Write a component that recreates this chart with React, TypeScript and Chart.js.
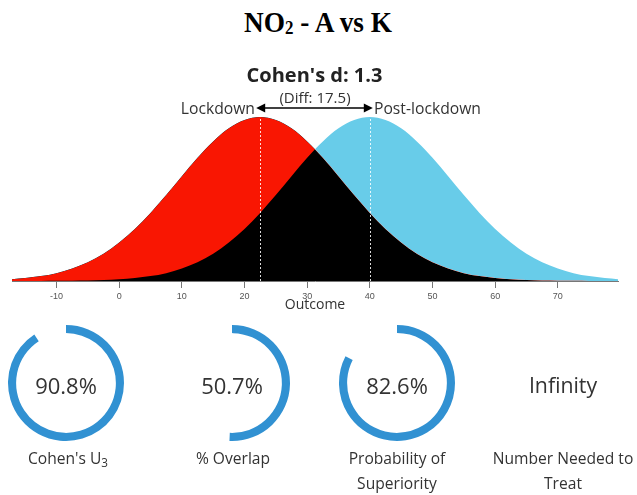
import React, { useEffect, useRef } from 'react';
import { Chart, registerables } from 'chart.js';

Chart.register(...registerables);

// ---------- data ----------
const X_MIN = -17.1;
const X_MAX = 79.6;
const X_VALUES = [
  -17.1, -15, -12.5, -10, -7.5, -5, -2.5, 0, 2.5, 5, 7.5, 10, 12.5, 15, 17.5, 20,
  22.5, 25, 27.5, 30, 32.5, 35, 37.5, 40, 42.5, 45, 47.5, 50, 52.5, 55, 57.5, 60,
  62.5, 65, 67.5, 70, 72.5, 75, 77.5, 79.6,
];
// relative density (peak = 100)
const LOCKDOWN = [
  1.1, 1.8, 3.0, 4.8, 7.6, 11.4, 16.6, 23.4, 31.7, 41.5, 52.4, 63.9, 75.1, 85.1, 93.1, 98.2,
  100, 98.2, 93.1, 85.1, 75.1, 63.9, 52.4, 41.5, 31.7, 23.4, 16.6, 11.4, 7.6, 4.8, 3.0, 1.8,
  1.0, 0.6, 0.3, 0.2, 0.1, 0.0, 0.0, 0.0,
];
const POST_LOCKDOWN = [
  0.0, 0.0, 0.0, 0.1, 0.2, 0.3, 0.6, 1.0, 1.8, 3.0, 4.8, 7.6, 11.4, 16.6, 23.4, 31.7,
  41.5, 52.4, 63.9, 75.1, 85.1, 93.1, 98.2, 100, 98.2, 93.1, 85.1, 75.1, 63.9, 52.4, 41.5, 31.7,
  23.4, 16.6, 11.4, 7.6, 4.8, 3.0, 1.8, 1.1,
];
const X_TICKS = [-10, 0, 10, 20, 30, 40, 50, 60, 70];
const MEANS = [22.5, 40];
const GROUP_NAMES = ['Lockdown', 'Post-lockdown'];
const COHENS_D_TEXT = "Cohen's d: 1.3";
const DIFF_TEXT = '(Diff: 17.5)';
const X_TITLE = 'Outcome';
const GAUGE_VALUES = [90.8, 50.7, 82.6];
const GAUGE_TEXTS = ['90.8%', '50.7%', '82.6%', 'Infinity'];

// ---------- styles ----------
const RED = 'rgb(249,22,2)';
const BLUE = 'rgb(104,204,233)';
const RING = 'rgb(49,145,210)';
const TEXT = '#333';
const SANS = '"Open Sans", "Noto Sans", sans-serif';

const meanPlugin = {
  id: 'meanMarks',
  afterDatasetsDraw(chart: any) {
    const { ctx, scales } = chart;
    const x = scales.x;
    const y = scales.y;
    const base = y.getPixelForValue(0);
    const top = y.getPixelForValue(100);
    ctx.save();
    ctx.strokeStyle = 'rgba(255,255,255,0.85)';
    ctx.lineWidth = 1;
    ctx.setLineDash([2, 2]);
    MEANS.forEach((m) => {
      const px = Math.round(x.getPixelForValue(m)) + 0.5;
      ctx.beginPath();
      ctx.moveTo(px, base);
      ctx.lineTo(px, top);
      ctx.stroke();
    });
    ctx.setLineDash([]);
    // arrow between means
    const x1 = x.getPixelForValue(MEANS[0]) - 4;
    const x2 = x.getPixelForValue(MEANS[1]) + 3;
    const ay = top - 9;
    ctx.strokeStyle = '#000';
    ctx.fillStyle = '#000';
    ctx.lineWidth = 1.5;
    ctx.beginPath();
    ctx.moveTo(x1 + 6, ay);
    ctx.lineTo(x2 - 6, ay);
    ctx.stroke();
    ctx.beginPath();
    ctx.moveTo(x1, ay);
    ctx.lineTo(x1 + 9, ay - 4.5);
    ctx.lineTo(x1 + 9, ay + 4.5);
    ctx.closePath();
    ctx.fill();
    ctx.beginPath();
    ctx.moveTo(x2, ay);
    ctx.lineTo(x2 - 9, ay - 4.5);
    ctx.lineTo(x2 - 9, ay + 4.5);
    ctx.closePath();
    ctx.fill();
    ctx.restore();
  },
};

function DensityChart() {
  const ref = useRef<HTMLCanvasElement | null>(null);
  useEffect(() => {
    if (!ref.current) return;
    const chart = new Chart(ref.current, {
      type: 'line',
      data: {
        datasets: [
          {
            data: X_VALUES.map((x, i) => ({ x, y: POST_LOCKDOWN[i] })),
            borderWidth: 0,
            borderColor: 'rgba(0,0,0,0)',
            pointRadius: 0,
            cubicInterpolationMode: 'monotone',
            fill: { target: 1, above: BLUE, below: RED },
          },
          {
            data: X_VALUES.map((x, i) => ({ x, y: LOCKDOWN[i] })),
            borderWidth: 0,
            borderColor: 'rgba(0,0,0,0)',
            pointRadius: 0,
            cubicInterpolationMode: 'monotone',
            backgroundColor: '#000',
            fill: 'origin',
          },
        ],
      } as any,
      options: {
        responsive: false,
        animation: false,
        devicePixelRatio: 1,
        events: [],
        layout: { padding: { left: 12, right: 19, top: 117, bottom: 0 } },
        plugins: { legend: { display: false }, tooltip: { enabled: false } },
        scales: {
          x: {
            type: 'linear',
            min: X_MIN,
            max: X_MAX,
            afterBuildTicks: (s: any) => {
              s.ticks = X_TICKS.map((v) => ({ value: v }));
            },
            afterFit: (s: any) => {
              s.height = 49;
            },
            grid: { drawOnChartArea: false, drawTicks: true, tickLength: 7, color: '#777' },
            border: { display: true, color: '#777', width: 1 },
            ticks: {
              font: { family: '"Liberation Sans", Arial, sans-serif', size: 9 },
              color: '#555',
              padding: 3,
              maxRotation: 0,
              autoSkip: false,
            },
            title: {
              display: true,
              text: X_TITLE,
              font: { family: SANS, size: 14 },
              color: TEXT,
              padding: { top: 0, bottom: 16.6 },
            },
          },
          y: { display: false, min: 0, max: 100 },
        },
      } as any,
      plugins: [meanPlugin],
    });
    return () => chart.destroy();
  }, []);
  return (
    <canvas
      ref={ref}
      width={637}
      height={330}
      style={{ position: 'absolute', left: 0, top: 0, width: 637, height: 330, display: 'block' }}
    />
  );
}

function Gauge({ value, cx, cy }: { value: number; cx: number; cy: number }) {
  const ref = useRef<HTMLCanvasElement | null>(null);
  useEffect(() => {
    if (!ref.current) return;
    const chart = new Chart(ref.current, {
      type: 'doughnut',
      data: {
        datasets: [
          {
            data: [value, 100 - value],
            backgroundColor: [RING, 'rgba(0,0,0,0)'],
            borderWidth: 0,
          },
        ],
      },
      options: {
        responsive: false,
        animation: false,
        devicePixelRatio: 1,
        events: [],
        radius: 58,
        cutout: '86%',
        plugins: { legend: { display: false }, tooltip: { enabled: false } },
      } as any,
    });
    return () => chart.destroy();
  }, [value]);
  return (
    <canvas
      ref={ref}
      width={130}
      height={130}
      style={{ position: 'absolute', left: cx - 65, top: cy - 65, width: 130, height: 130, display: 'block' }}
    />
  );
}

const centered = (x: number, y: number, extra: React.CSSProperties = {}): React.CSSProperties => ({
  position: 'absolute',
  left: x,
  top: y,
  transform: 'translate(-50%, -50%)',
  whiteSpace: 'nowrap',
  fontFamily: SANS,
  color: TEXT,
  lineHeight: 1.2,
  ...extra,
});

const COL_X = [66, 232, 397, 563];
const RING_Y = 382.5;

export default function App() {
  return (
    <div style={{ position: 'fixed', left: 0, top: 0, width: 637, height: 495, background: '#fff', overflow: 'hidden' }}>
      <div
        style={{
          position: 'absolute',
          left: 318,
          top: 7,
          transform: 'translateX(-50%) scaleX(0.91)',
          font: 'bold 30px "Liberation Serif", "Times New Roman", serif',
          lineHeight: '30px',
          whiteSpace: 'nowrap',
          color: '#000',
        }}
      >
        NO<span style={{ fontSize: '0.62em', position: 'relative', top: 2 }}>2</span> - A vs K
      </div>

      <DensityChart />

      <div style={centered(314.5, 75, { fontWeight: 700, fontSize: 20, color: '#222' })}>{COHENS_D_TEXT}</div>
      <div style={centered(315, 97, { fontSize: 15 })}>{DIFF_TEXT}</div>
      <div
        style={{
          position: 'absolute',
          right: 637 - 255,
          top: 108,
          transform: 'translateY(-50%)',
          whiteSpace: 'nowrap',
          fontFamily: SANS,
          fontSize: 15.7,
          lineHeight: 1.2,
          color: TEXT,
        }}
      >
        {GROUP_NAMES[0]}
      </div>
      <div
        style={{
          position: 'absolute',
          left: 374,
          top: 108,
          transform: 'translateY(-50%)',
          whiteSpace: 'nowrap',
          fontFamily: SANS,
          fontSize: 15.7,
          lineHeight: 1.2,
          color: TEXT,
        }}
      >
        {GROUP_NAMES[1]}
      </div>

      {GAUGE_VALUES.map((v, i) => (
        <Gauge key={i} value={v} cx={COL_X[i]} cy={RING_Y} />
      ))}
      {GAUGE_TEXTS.map((t, i) => (
        <div key={'t' + i} style={centered(COL_X[i], 385, { fontSize: i === 3 ? 21.3 : 22 })}>
          {t}
        </div>
      ))}

      <div style={centered(COL_X[0] + 2, 458, { fontSize: 15.6 })}>
        Cohen's U<sub style={{ fontSize: '0.75em', verticalAlign: '-0.25em', lineHeight: 0 }}>3</sub>
      </div>
      <div style={centered(COL_X[1] + 1, 458, { fontSize: 15.6 })}>% Overlap</div>
      <div style={centered(COL_X[2], 470.5, { fontSize: 15.6, lineHeight: '25px', textAlign: 'center' })}>
        Probability of
        <br />
        Superiority
      </div>
      <div style={centered(COL_X[3], 470.5, { fontSize: 15.6, lineHeight: '25px', textAlign: 'center' })}>
        Number Needed to
        <br />
        Treat
      </div>
    </div>
  );
}
